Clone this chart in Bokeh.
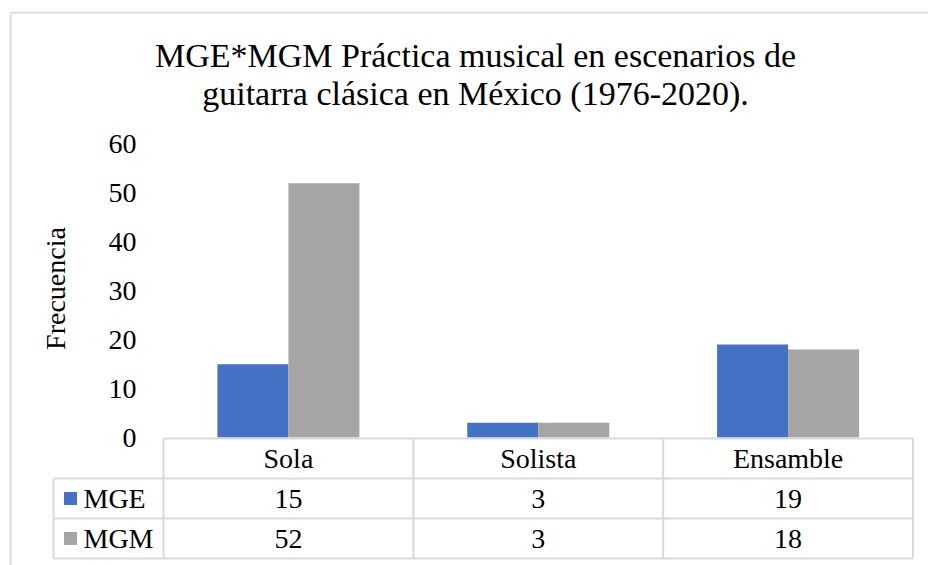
import numpy as np
from bokeh.plotting import figure
from bokeh.models import ColumnDataSource, Range1d, FixedTicker
from bokeh.transform import dodge
from bokeh.core.properties import value
from bokeh.embed import file_html
from bokeh.resources import INLINE

# ---------------- data ----------------
title_lines = ["MGE*MGM Práctica musical en escenarios de",
               "guitarra clásica en México (1976-2020)."]
categories = ["Sola", "Solista", "Ensamble"]
series = ["MGE", "MGM"]
mge = [15, 3, 19]
mgm = [52, 3, 18]
y_ticks = [0, 10, 20, 30, 40, 50, 60]
y_label = "Frecuencia"
colors = ["#4472C4", "#A5A5A5"]

# ---------------- style / geometry (page pixels) ----------------
FONT = "Liberation Serif"
TXT = "28px"
GRID = "#D9D9D9"
W, H = 928, 565
n = len(categories)
ns = len(series)
X0, X1 = 163, 912.5          # plot area left / right
Y0, Y60 = 437, 143.5         # value 0 / value 60
BL, BT = 10, 12              # chart border left / top
PX = (X1 - X0) / n
KY = (Y0 - Y60) / max(y_ticks)
ROW = 40
TOP_T = 438                  # table top line
LC = (53 - X0) / PX          # legend column left edge (x units)


def xu(px):
    return (px - X0) / PX


def yu(py):
    return (Y0 - py) / KY


FL, FT = BL - 1, BT - 1
p = figure(width=W, height=H, title=None, output_backend="svg", toolbar_location=None,
           x_range=Range1d(xu(FL), xu(W)), y_range=Range1d(yu(H), yu(FT)),
           min_border_left=FL, min_border_right=0, min_border_top=FT, min_border_bottom=0,
           x_axis_type=None)
p.extra_y_ranges = {"tbl": Range1d(start=(H - TOP_T) / ROW, end=-(TOP_T - FT) / ROW)}
p.grid.visible = False
p.outline_line_color = None

# chart border (left and top)
p.segment(x0=[xu(BL), xu(BL)], y0=[yu(BT), yu(BT)], x1=[xu(BL), xu(W)], y1=[yu(H), yu(BT)],
          line_color=GRID, line_width=2)

# title
p.text(x=[xu(475), xu(475)], y=[yu(55), yu(93)], text=title_lines, text_font=value(FONT),
       text_font_size="34px", text_align="center", text_baseline="middle", text_color="black")

# bars
xc = np.arange(n) + 0.5
src = ColumnDataSource(dict(x=xc, MGE=mge, MGM=mgm))
bw = 71 / PX
p.vbar(x=dodge("x", -bw / 2), top=series[0], bottom=0, width=bw, source=src,
       fill_color=colors[0], line_color=None)
p.vbar(x=dodge("x", bw / 2), top=series[1], bottom=0, width=bw, source=src,
       fill_color=colors[1], line_color=None)

# y axis
ya = p.yaxis[0]
ya.ticker = FixedTicker(ticks=y_ticks)
ya.axis_line_color = None
ya.major_tick_line_color = None
ya.minor_tick_line_color = None
ya.major_label_standoff = -133
ya.major_label_text_font = FONT
ya.major_label_text_font_size = TXT
ya.major_label_text_color = "black"
ya.axis_label = y_label
ya.axis_label_standoff = 35
ya.axis_label_text_font = FONT
ya.axis_label_text_font_size = TXT
ya.axis_label_text_font_style = "normal"
ya.axis_label_text_color = "black"

# data table grid
hy = list(range(ns + 2))
p.segment(x0=[0] + [LC] * (ns + 1), y0=hy, x1=[n] * (ns + 2), y1=hy,
          line_color=GRID, line_width=2, y_range_name="tbl")
vx = list(range(n + 1)) + [LC]
p.segment(x0=vx, y0=[0] * (n + 1) + [1], x1=vx, y1=[ns + 1] * (n + 2),
          line_color=GRID, line_width=2, y_range_name="tbl")

# header row
p.text(x=list(xc), y=[0.5] * n, text=categories, text_font=value(FONT),
       text_font_size=TXT, text_align="center", text_baseline="middle",
       text_color="black", y_range_name="tbl")

# value rows
vals = [mge, mgm]
for i in range(ns):
    p.text(x=list(xc), y=[i + 1.5] * n, text=[str(v) for v in vals[i]],
           text_font=value(FONT), text_font_size=TXT, text_align="center",
           text_baseline="middle", text_color="black", y_range_name="tbl")

# legend keys in the table
ly = [i + 1.5 for i in range(ns)]
p.scatter(x=[xu(70)] * ns, y=ly, marker="square", size=13,
          fill_color=colors, line_color=None, y_range_name="tbl")
p.text(x=[xu(83)] * ns, y=ly, text=series, text_font=value(FONT),
       text_font_size=TXT, text_align="left", text_baseline="middle", text_color="black",
       y_range_name="tbl")

open("out.html", "w").write(file_html(p, INLINE))
